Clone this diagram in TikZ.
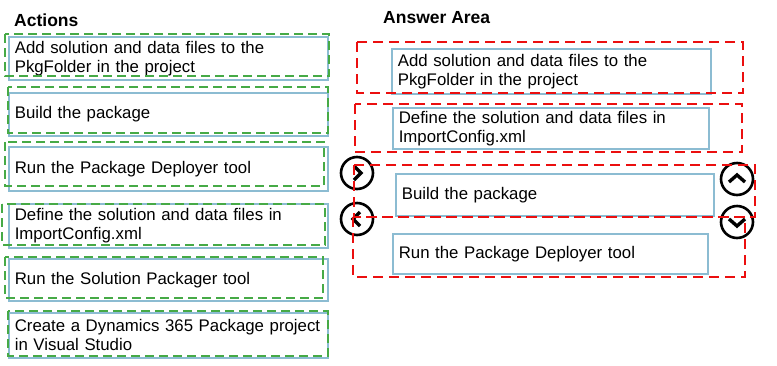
\documentclass[tikz,border=0pt]{standalone}
\usepackage{fontspec}
\setmainfont{Liberation Sans}
\usetikzlibrary{positioning}
\definecolor{itemblue}{RGB}{140,188,210}
\definecolor{pickgreen}{RGB}{70,170,70}
\definecolor{slotred}{RGB}{235,15,15}

\begin{document}
\begin{tikzpicture}[x=1pt, y=-1pt,
    item/.style={rectangle, draw=itemblue, line width=1.6pt, fill=white, anchor=north west,
                 minimum height=43pt, align=left, inner xsep=6pt, inner ysep=0pt,
                 text width=#1, font=\fontsize{16.8}{19}\selectfont},
    head/.style={anchor=west, inner sep=0pt, font=\bfseries\fontsize{17.5}{20}\selectfont},
    pick/.style={draw=pickgreen, line width=2.6pt, dash pattern=on 9pt off 5pt},
    slot/.style={draw=slotred, line width=2.6pt, dash pattern=on 10pt off 6pt},
    mover/.style={circle, draw, line width=2.6pt, minimum size=32pt, inner sep=0pt},
    chev/.style={line width=3.4pt, line cap=butt, line join=miter},
]
    \useasboundingbox[fill=white] (0,0) rectangle (777,365);

    % Actions column
    \node[head] (acthead) at (14,20) {Actions};
    \node[item=307pt] (act1) at (8,36) {Add solution and data files to the\\PkgFolder in the project};
    \node[item=307pt] (act2) at (8,92) {Build the package};
    \node[item=307pt, minimum height=44pt] (act3) at (8,146) {Run the Package Deployer tool};
    \node[item=307pt, minimum height=44pt] (act4) at (8,203) {Define the solution and data files in\\ImportConfig.xml};
    \node[item=307pt, minimum height=42pt] (act5) at (8,258) {Run the Solution Packager tool};
    \node[item=307pt, minimum height=45pt] (act6) at (8,312) {Create a Dynamics 365 Package project\\in Visual Studio};

    % green selection frames
    \draw[pick] (5,34) rectangle (329,76);
    \draw[pick] (8,87) rectangle (328,133);
    \draw[pick] (5,142) rectangle (324,186);
    \draw[pick] (2,204) rectangle (325,245);
    \draw[pick] (5,257) rectangle (323,298);
    \draw[pick] (8,311) rectangle (328,356);

    % Answer area
    \node[head] (anshead) at (383,18) {Answer Area};
    \node[item=307pt, minimum height=45pt] (ans1) at (391,48) {Add solution and data files to the\\PkgFolder in the project};
    \node[item=304pt, minimum height=41pt] (ans2) at (392,107) {Define the solution and data files in\\ImportConfig.xml};
    \node[item=306pt, minimum height=42pt] (ans3) at (395,173) {Build the package};
    \node[item=303pt, minimum height=40pt] (ans4) at (392,233) {Run the Package Deployer tool};

    % Move buttons
    \node[mover] (mvright) at (357,173) {};
    \node[mover] (mvleft) at (357,219) {};
    \node[mover] (mvup) at (737,179) {};
    \node[mover] (mvdown) at (737,222) {};
    \draw[chev] ([shift={(-3,-7)}]mvright.center) -- ([shift={(4,0)}]mvright.center) -- ([shift={(-3,7)}]mvright.center);
    \draw[chev] ([shift={(3,-7)}]mvleft.center) -- ([shift={(-4,0)}]mvleft.center) -- ([shift={(3,7)}]mvleft.center);
    \draw[chev] ([shift={(-8,3)}]mvup.center) -- ([shift={(0,-4)}]mvup.center) -- ([shift={(8,3)}]mvup.center);
    \draw[chev] ([shift={(-8,-3)}]mvdown.center) -- ([shift={(0,4)}]mvdown.center) -- ([shift={(8,-3)}]mvdown.center);

    % red answer slots
    \draw[slot] (357,42) rectangle (743,93);
    \draw[slot] (355,104) rectangle (742,152);
    \draw[slot] (354,165) rectangle (755,217);
    \draw[slot] (353,217) rectangle (745,277);
\end{tikzpicture}
\end{document}
